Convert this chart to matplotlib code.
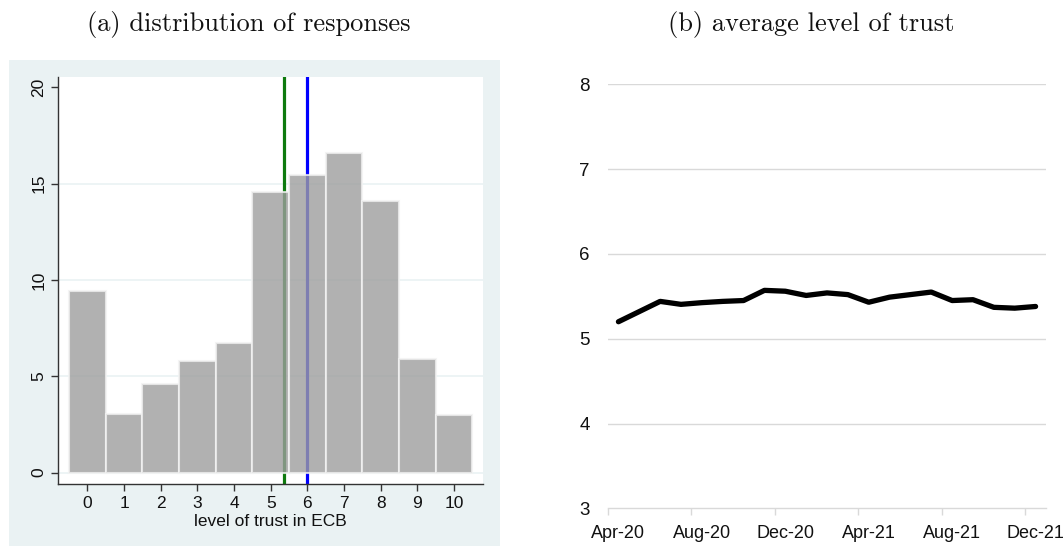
import matplotlib
matplotlib.use("Agg")
import matplotlib.pyplot as plt
from matplotlib.ticker import FixedLocator
import numpy as np

# ---------------- data ----------------
trust_levels = [0, 1, 2, 3, 4, 5, 6, 7, 8, 9, 10]
percent = [9.43, 3.03, 4.62, 5.80, 6.71, 14.55, 15.45, 16.57, 14.08, 5.88, 2.98]
mean_trust = 5.37
median_trust = 6.0

months = ["Apr-20", "May-20", "Jun-20", "Jul-20", "Aug-20", "Sep-20", "Oct-20",
          "Nov-20", "Dec-20", "Jan-21", "Feb-21", "Mar-21", "Apr-21", "May-21",
          "Jun-21", "Jul-21", "Aug-21", "Sep-21", "Oct-21", "Nov-21", "Dec-21"]
avg_trust = [5.20, 5.32, 5.44, 5.405, 5.425, 5.44, 5.45, 5.57, 5.56, 5.51, 5.54,
             5.52, 5.43, 5.49, 5.52, 5.55, 5.45, 5.46, 5.37, 5.36, 5.38]
month_labels = ["Apr-20", "Aug-20", "Dec-20", "Apr-21", "Aug-21", "Dec-21"]

W, H = 1064, 546
fig = plt.figure(figsize=(W / 100, H / 100), dpi=100)
fig.patch.set_facecolor("white")

def fx(px):
    return px / W

def fy(py):
    return 1 - py / H

# ---------------- titles ----------------
fig.text(fx(249), fy(25), "(a) distribution of responses", family="cmr10",
         fontsize=19, ha="center", va="center", color="#111111")
fig.text(fx(811), fy(25), "(b) average level of trust", family="cmr10",
         fontsize=19, ha="center", va="center", color="#111111")

# ---------------- panel (a) ----------------
stata_bg = "#EAF2F3"
bg = fig.add_axes([fx(9), 0, fx(500) - fx(9), fy(60)], zorder=-5)
bg.set_facecolor(stata_bg)
bg.set_xticks([])
bg.set_yticks([])
for s in bg.spines.values():
    s.set_visible(False)

ax1 = fig.add_axes([fx(58), fy(484), fx(483) - fx(58), fy(77) - fy(484)], zorder=1)
ax1.set_facecolor("white")
ax1.set_xlim(-0.80, 10.79)
ax1.set_ylim(-0.59, 20.53)
for y in [0, 5, 10, 15]:
    ax1.axhline(y, color=stata_bg, lw=1.2, zorder=1)
ax1.axvline(mean_trust, color="#0E7A0E", lw=2.3, zorder=2)
ax1.axvline(median_trust, color="#0000FF", lw=2.3, zorder=2)
ax1.bar(trust_levels, percent, width=1.0, color=(0.62, 0.62, 0.62), alpha=0.8,
        edgecolor="#F2F2F2", linewidth=1.5, zorder=3)
ax1.set_xticks(trust_levels)
ax1.set_xticklabels([str(t) for t in trust_levels])
ax1.set_yticks([0, 5, 10, 15, 20])
ax1.set_yticklabels(["0", "5", "10", "15", "20"], rotation=90, va="center")
for s in ["top", "right"]:
    ax1.spines[s].set_visible(False)
for s in ["left", "bottom"]:
    ax1.spines[s].set_color("#333333")
    ax1.spines[s].set_linewidth(1.0)
ax1.tick_params(axis="both", length=5, width=1.0, color="#333333", labelsize=12.5,
                labelcolor="#111111", pad=3.5)
ax1.set_xlabel("level of trust in ECB", fontsize=12.5, color="#111111", labelpad=2)
for t in ax1.get_xticklabels() + ax1.get_yticklabels() + [ax1.xaxis.label]:
    t.set_family(["Liberation Sans", "DejaVu Sans"])

# ---------------- panel (b) ----------------
sans = ["Liberation Sans", "DejaVu Sans"]
ax2 = fig.add_axes([fx(608), fy(508.3), fx(1046) - fx(608), fy(84.3) - fy(508.3)])
xs = np.arange(len(months))
ax2.set_xlim(-0.5, len(months) - 0.5)
ax2.set_ylim(3, 8)
for y in [4, 5, 6, 7, 8]:
    ax2.axhline(y, color="#D9D9D9", lw=1.0, zorder=1)
ax2.plot(xs, avg_trust, color="black", lw=3.8, solid_capstyle="round",
         solid_joinstyle="round", zorder=3)
label_pos = [months.index(m) for m in month_labels]
ax2.set_xticks(label_pos)
ax2.set_xticklabels(month_labels)
ax2.xaxis.set_minor_locator(FixedLocator([p - 0.5 for p in label_pos]))
ax2.set_yticks([3, 4, 5, 6, 7, 8])
ax2.set_yticklabels(["3", "4", "5", "6", "7", "8"])
for s in ["top", "right", "left"]:
    ax2.spines[s].set_visible(False)
ax2.spines["bottom"].set_color("#D9D9D9")
ax2.spines["bottom"].set_linewidth(1.0)
ax2.tick_params(axis="x", which="major", length=0, pad=12, labelsize=13)
ax2.tick_params(axis="x", which="minor", length=5, width=1.0, color="#D9D9D9")
ax2.tick_params(axis="y", length=0, pad=13, labelsize=13.5)
for t in ax2.get_xticklabels() + ax2.get_yticklabels():
    t.set_family(sans)
    t.set_color("#111111")

fig.savefig("out.png", dpi=100, facecolor="white")
